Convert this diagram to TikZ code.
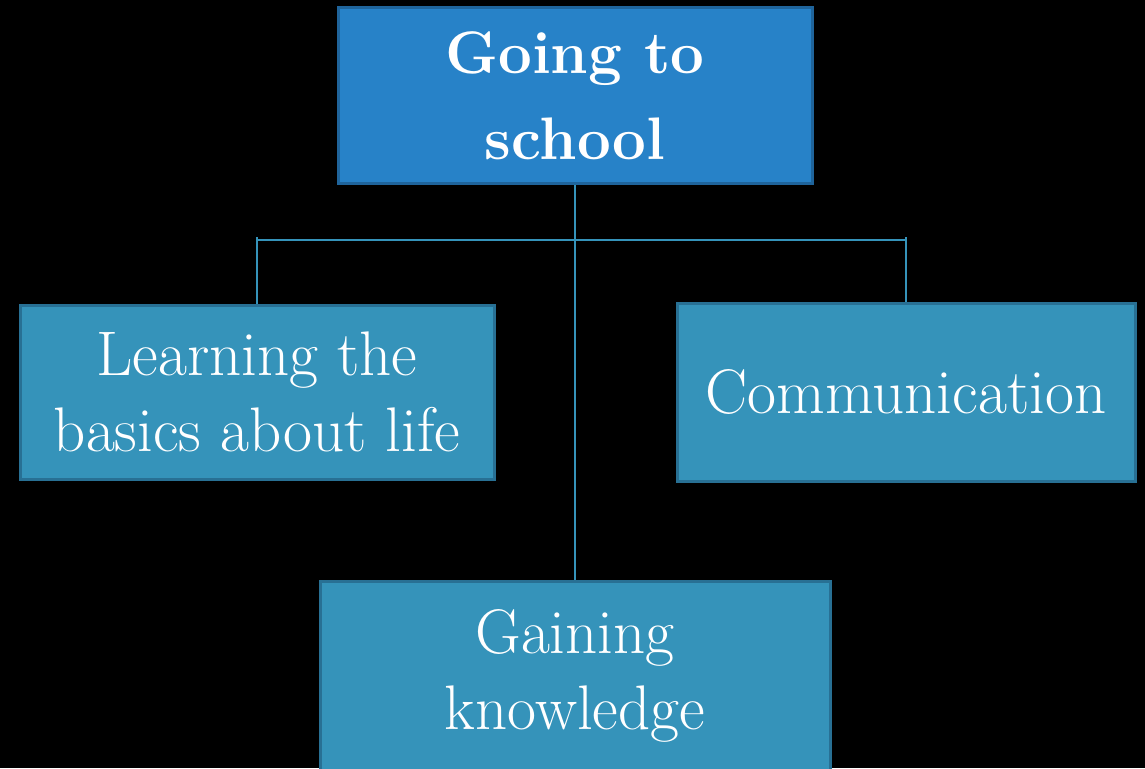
\documentclass[tikz,border=0pt]{standalone}
\definecolor{topfill}{RGB}{39,130,200}
\definecolor{topedge}{RGB}{31,100,155}
\definecolor{boxfill}{RGB}{53,147,186}
\definecolor{boxedge}{RGB}{40,112,148}
\definecolor{linec}{RGB}{53,147,186}
\tikzset{
  topbox/.style={draw=topedge, fill=topfill, line width=3pt, text=white, align=center, inner sep=0pt,
    font=\bfseries\fontsize{60}{86}\selectfont},
  subbox/.style={draw=boxedge, fill=boxfill, line width=3pt, text=white, align=center, inner sep=0pt,
    font=\fontsize{63}{76}\selectfont},
  conn/.style={draw=linec, line width=1.6pt}
}
\begin{document}
\begin{tikzpicture}[x=1pt,y=-1pt]
\fill[black] (0,0) rectangle (1145,768);
\useasboundingbox (0,0) rectangle (1145,768);
\begin{scope}
\clip (0,0) rectangle (1145,768);
\node[topbox, minimum width=474pt, minimum height=175pt] (top) at (575,95.5) {Going to\\school};
\node[subbox, minimum width=474pt, minimum height=174pt] (left) at (257,392) {Learning the\\basics about life};
\node[subbox, minimum width=458pt, minimum height=178pt] (right) at (906,392) {Communication};
\node[subbox, minimum width=510pt, minimum height=200pt, anchor=north] (bottom) at (575,580) {};
\node[text=white, align=center, font=\fontsize{63}{76}\selectfont] (btext) at (575,676) {Gaining\\knowledge};
\coordinate (hl) at (257,240);
\coordinate (hr) at (906,240);
\coordinate (tl) at (257,237);
\coordinate (tr) at (906,237);
\draw[conn] (top.south) -- (bottom.north);
\draw[conn] (hl) -- (hr);
\draw[conn] (tl) -- (left.north);
\draw[conn] (tr) -- (right.north);
\end{scope}
\end{tikzpicture}
\end{document}
